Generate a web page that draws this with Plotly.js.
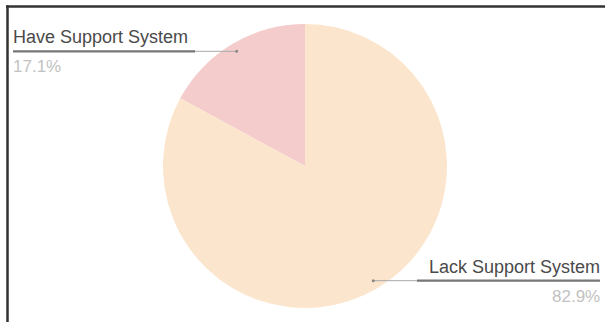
<!DOCTYPE html>
<html>
<head>
<meta charset="utf-8">
<script src="https://cdn.plot.ly/plotly-3.0.1.min.js"></script>
<style>
  html, body { margin: 0; padding: 0; background: #fff; }
  #chart { width: 605px; height: 322px; }
</style>
</head>
<body>
<div id="chart"></div>
<script>
const labels = ["Have Support System", "Lack Support System"];
const values = [17.1, 82.9];
const percentText = ["17.1%", "82.9%"];
const colors = ["#f4cccc", "#fce5cd"];

const W = 605, H = 322;
const cx = 305, cy = 166, R = 142;
const px = x => x / W;
const py = y => 1 - y / H;

const total = values.reduce((a, b) => a + b, 0);

// midangles, counterclockwise from 12 o'clock
let acc = 0;
const anchors = values.map(v => {
  const mid = (acc + v / 2) / total * 2 * Math.PI;
  acc += v;
  return { x: cx - 0.94 * R * Math.sin(mid), y: cy - 0.94 * R * Math.cos(mid) };
});

const shapes = [];
const annotations = [];
const textColor = "#4a4a4a";
const thickColor = "#777777";
const thinColor = "#a8a8a8";

const labelSpec = [
  { side: "left", textEdge: 13, thickEnd: 195 },
  { side: "right", textEdge: 600, thickEnd: 417 }
];

anchors.forEach((a, i) => {
  const s = labelSpec[i];
  const ly = a.y;
  shapes.push({ type: "line", xref: "paper", yref: "paper",
    x0: px(s.textEdge), x1: px(a.x), y0: py(ly), y1: py(ly),
    line: { color: thinColor, width: 1 } });
  shapes.push({ type: "line", xref: "paper", yref: "paper",
    x0: px(s.textEdge), x1: px(s.thickEnd), y0: py(ly), y1: py(ly),
    line: { color: thickColor, width: 2.2 } });
  shapes.push({ type: "circle", xref: "paper", yref: "paper",
    x0: px(a.x - 1.5), x1: px(a.x + 1.5), y0: py(ly + 1.5), y1: py(ly - 1.5),
    fillcolor: "#888", line: { width: 0 } });
  const xa = s.side === "left" ? "left" : "right";
  annotations.push({ xref: "paper", yref: "paper", x: px(s.textEdge - (xa === "left" ? 2 : -2)), y: py(ly - 2),
    xanchor: xa, yanchor: "bottom", showarrow: false, text: labels[i],
    font: { family: "Liberation Sans, Arial, sans-serif", size: 18, color: textColor } });
  annotations.push({ xref: "paper", yref: "paper", x: px(s.textEdge - (xa === "left" ? 2 : -2)), y: py(ly + 4),
    xanchor: xa, yanchor: "top", showarrow: false, text: percentText[i],
    font: { family: "Liberation Sans, Arial, sans-serif", size: 17, color: "#c2c2c2" } });
});

// frame lines (top and left)
shapes.push({ type: "line", xref: "paper", yref: "paper",
  x0: px(6), x1: px(W), y0: py(6.5), y1: py(6.5), line: { color: "#333", width: 2.5 } });
shapes.push({ type: "line", xref: "paper", yref: "paper",
  x0: px(7.5), x1: px(7.5), y0: py(5.5), y1: py(H), line: { color: "#333", width: 2.5 } });

const trace = {
  type: "pie",
  labels: labels,
  values: values,
  sort: false,
  direction: "clockwise",
  rotation: -values[0] / total * 360,
  textinfo: "none",
  hoverinfo: "label+percent",
  marker: { colors: colors, line: { width: 0 } },
  domain: { x: [px(cx - R), px(cx + R)], y: [py(cy + R), py(cy - R)] },
  showlegend: false
};

Plotly.newPlot("chart", [trace], {
  width: W, height: H,
  margin: { l: 0, r: 0, t: 0, b: 0 },
  paper_bgcolor: "#fff",
  showlegend: false,
  shapes: shapes,
  annotations: annotations
}, { staticPlot: true });
</script>
</body>
</html>
